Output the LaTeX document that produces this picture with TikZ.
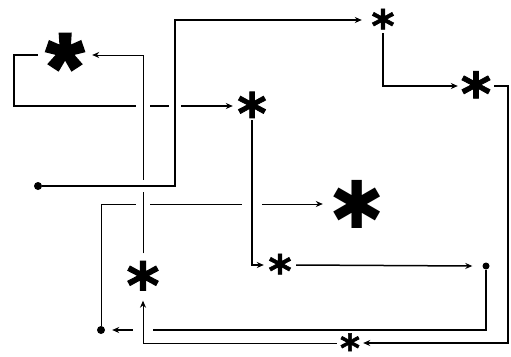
\documentclass[tikz,border=0pt]{standalone}
\usepackage{fontspec}
\usetikzlibrary{arrows.meta,backgrounds}
\newfontfamily\astfont{DejaVu Sans}[BoldFeatures={FakeBold=1.5}]
\newfontfamily\heavyfont{DejaVu Sans}
\newfontfamily\bigastfont{Liberation Sans}[BoldFeatures={FakeBold=3}]
\begin{document}
\begin{tikzpicture}[x=1pt,y=-1pt,
  conn/.style={line width=1.5pt, -{Stealth[length=7pt,width=6pt]}},
  thin/.style={line width=1pt},
  halo/.style={preaction={draw=white, line width=#1, arrows=-}},
  astm/.style n args={3}{font=\astfont\bfseries\fontsize{#1}{#1}\selectfont,
     inner sep=0pt, text height=0pt, text depth=0pt,
     minimum width=#2pt, minimum height=#3pt},
  dot/.style={circle, fill, inner sep=0pt, minimum size=#1}
]
\useasboundingbox (0,0) rectangle (511,356);
% nodes
\node[font=\bigastfont\bfseries\fontsize{96}{96}\selectfont, inner sep=0pt,
      text height=0pt, text depth=0pt, minimum width=54pt, minimum height=46pt]
      (A) at (65,55) {\raisebox{-45pt}{*}};
\node[astm={56}{38}{28}] (B) at (252,106) {\raisebox{-27.4pt}{*}};
\node[astm={44}{42}{26}] (C) at (383,20) {\raisebox{-21.6pt}{*}};
\node[astm={58}{36}{30}] (D) at (476,86) {\raisebox{-28.4pt}{*}};
\node[font=\heavyfont\fontsize{66}{66}\selectfont, inner sep=0pt,
      minimum width=68pt, minimum height=52pt] (E) at (357,204) {✱};
\node[dot=8pt] (F) at (38,186) {};
\node[astm={44}{32}{26}] (G) at (280,265) {\raisebox{-21.6pt}{*}};
\node[dot=7pt] (H) at (486,266) {};
\node[astm={63}{40}{47}] (I) at (143,277) {\raisebox{-30.9pt}{*}};
\node[dot=8pt] (J) at (101,330) {};
\node[astm={38}{26}{22}] (K) at (350,343) {\raisebox{-18.6pt}{*}};
% connectors
\begin{scope}[on background layer]
\draw[conn] (A.west) -| (14,80) |- (B.west);
\draw[conn, thin] (J.north) |- (E.west);
\draw[conn] (H.south) |- ([xshift=7pt]J.east);
\draw[conn] (C.south) |- (D.west);
\draw[conn] (D.east) -| (508,200) |- (K.east);
\draw[conn] (G.east) -- ([xshift=-10pt]H.west);
\draw[conn, halo=14pt, thin] (I.north) |- (A.east);
\draw[conn, halo=12pt] (F.east) -| (175,100) |- (C.west);
\draw[conn, halo=20pt] (B.south) |- (G.west);
\draw[conn, halo=20pt, thin] (K.west) -| (I.south);
\end{scope}
\end{tikzpicture}
\end{document}
